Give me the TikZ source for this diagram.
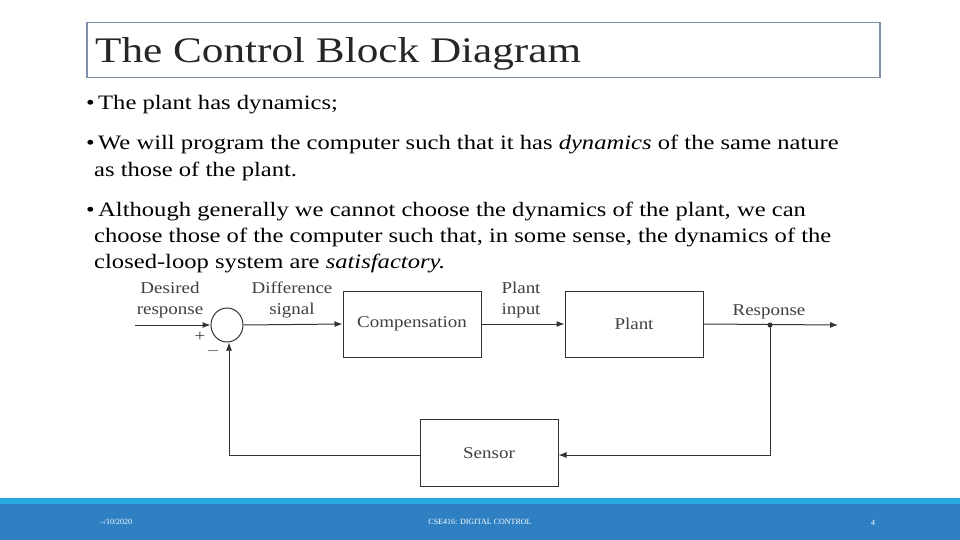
\documentclass[tikz,border=0pt]{standalone}
\usepackage{fontspec}
\setmainfont{Liberation Serif}
\newfontfamily\wideserif[FakeStretch=1.2]{Liberation Serif}
\newfontfamily\diagserif[FakeStretch=1.15]{Liberation Serif}
\usetikzlibrary{arrows.meta,shapes.geometric}
\definecolor{fband}{HTML}{2E80C2}
\definecolor{fstrip}{HTML}{27A9E1}
\definecolor{tborder}{HTML}{7F8FA9}
\tikzset{
 body/.style={anchor=base west,font=\wideserif\fontsize{20.5}{24}\selectfont,inner sep=0},
 blk/.style={draw=black!80,line width=1pt,fill=white,font=\diagserif\fontsize{16.5}{18}\selectfont,text=black!75},
 lab/.style={font=\diagserif\fontsize{16.5}{21}\selectfont,text=black!75,align=center,inner sep=0},
 sig/.style={draw=black!80,line width=1pt,-{Latex[length=8pt,width=6pt]}},
 foot/.style={font=\fontsize{8}{9}\selectfont,text=white}
}
\begin{document}
\begin{tikzpicture}[x=1pt,y=-1pt]
\useasboundingbox (0,0) rectangle (960,540);
\fill[white] (0,0) rectangle (960,540);
% title
\node[draw=tborder,line width=1.5pt,minimum width=793,minimum height=55,anchor=north west,inner sep=0] (tbox) at (86,22) {};
\node[anchor=base west,font=\wideserif\fontsize{36}{40}\selectfont,text=black!85,inner sep=0] (title) at (95,63) {The Control Block Diagram};
% body
\node[body] (b1) at (86,110) {\textbullet\,The plant has dynamics;};
\node[body] (b2) at (86,150) {\textbullet\,We will program the computer such that it has \textit{dynamics} of the same nature};
\node[body] (b2b) at (94,177) {as those of the plant.};
\node[body] (b3) at (86,216) {\textbullet\,Although generally we cannot choose the dynamics of the plant, we can};
\node[body] (b3b) at (94,242) {choose those of the computer such that, in some sense, the dynamics of the};
\node[body] (b3c) at (94,268) {closed-loop system are \textit{satisfactory.}};
% diagram
\coordinate (in) at (135,325);
\node[draw=black!80,line width=1pt,ellipse,minimum width=32,minimum height=34,inner sep=0] (sum) at (227,325) {};
\node[blk,minimum width=138,minimum height=66] (comp) at (412,324) {Compensation};
\node[blk,minimum width=138,minimum height=66] (plant) at (634,324) {Plant};
\node[blk,minimum width=138,minimum height=67] (sens) at (489,453) {Sensor};
\coordinate (dot) at (770,325);
\coordinate (out) at (838,325);
\coordinate (fbr) at (770,455);
\coordinate (fbl) at (229,455);
\fill[black!80] (dot) circle (2.5);
\draw[sig] (in) -- (sum.west);
\draw[sig] (sum.east) -- (comp.west);
\draw[sig] (comp.east) -- (plant.west);
\draw[sig] (plant.east) -- (out);
\draw[sig] (dot) -- (fbr) -- (sens.east |- fbr);
\draw[sig] (sens.west |- fbl) -- (fbl) -- (fbl |- sum.south);
\node[lab] (l1) at (170,300) {Desired\\response};
\node[lab] (l2) at (292,300) {Difference\\signal};
\node[lab] (l3) at (521,300) {Plant\\input};
\node[lab] (l4) at (769,312) {Response};
\node[lab] (plus) at (200,337) {+};
\node[lab] (minus) at (213,351) {$-$};
% footer
\fill[fband] (0,503) rectangle (960,540);
\fill[fstrip] (0,498) rectangle (960,504);
\node[foot] (f1) at (116,522) {--/10/2020};
\node[foot] (f2) at (480,522) {CSE416: DIGITAL CONTROL};
\node[foot] (f3) at (873,523) {4};
\end{tikzpicture}
\end{document}
